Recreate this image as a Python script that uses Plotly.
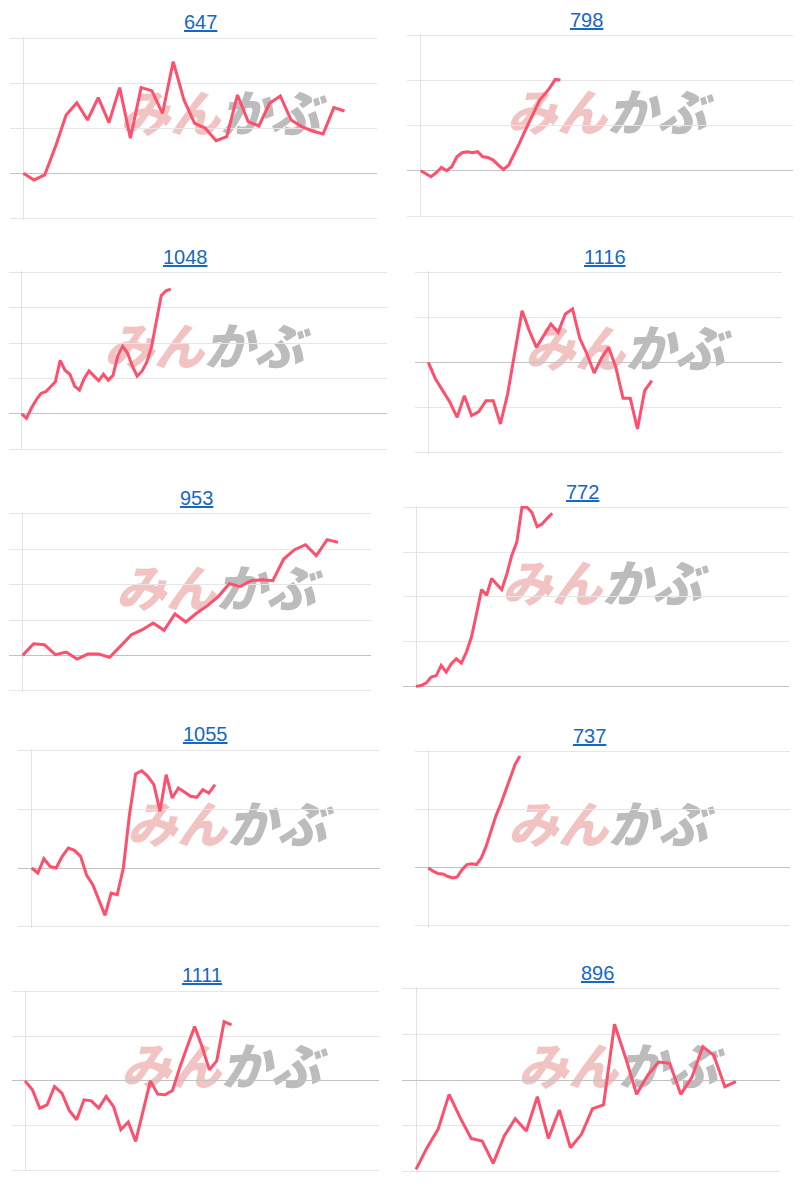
import plotly.graph_objects as go

# ---------------- data (values in grid-step units, 0 = start level) ----------------
titles = ["647", "798", "1048", "1116", "953", "772", "1055", "737", "1111", "896"]

s647 = [0, -0.148, -0.037, 0.593, 1.296, 1.57, 1.185, 1.681, 1.126, 1.904, 0.778, 1.904,
        1.837, 1.333, 2.481, 1.63, 1.111, 1.0, 0.726, 0.815, 1.741, 1.148, 1.052, 1.556,
        1.719, 1.185, 1.037, 0.941, 0.874, 1.459, 1.385]
s798 = [0, -0.074, -0.133, -0.044, 0.074, 0, 0.088, 0.309, 0.398, 0.42, 0.398, 0.42,
        0.309, 0.295, 0.236, 0.125, 0.029, 0.125, 0.346, 0.59, 0.84, 1.083, 1.341, 1.562,
        1.695, 1.842, 2.019, 2.005]
s1048 = [0, -0.121, 0.159, 0.393, 0.579, 0.626, 0.766, 0.907, 1.514, 1.234, 1.121, 0.785,
         0.673, 1.0, 1.215, 1.065, 0.935, 1.121, 0.953, 1.093, 1.654, 1.907, 1.72, 1.355,
         1.065, 1.206, 1.458, 1.897, 2.579, 3.336, 3.477, 3.523]
s1116 = [0, -0.37, -0.63, -0.889, -1.222, -0.741, -1.185, -1.096, -0.852, -0.852, -1.37,
         -0.704, 0.222, 1.148, 0.704, 0.333, 0.593, 0.852, 0.667, 1.074, 1.185, 0.533,
         0.185, -0.237, 0.089, 0.333, -0.111, -0.8, -0.8, -1.481, -0.63, -0.407]
s953 = [0, 0.33, 0.302, 0.019, 0.094, -0.104, 0.038, 0.038, -0.057, 0.255, 0.585, 0.726,
        0.915, 0.708, 1.17, 0.943, 1.198, 1.406, 1.67, 2.028, 1.953, 2.113, 2.142, 2.113,
        2.726, 2.991, 3.132, 2.821, 3.274, 3.198]
s772 = [0, 0.022, 0.075, 0.209, 0.239, 0.47, 0.321, 0.507, 0.619, 0.522, 0.769, 1.104,
        1.627, 2.164, 2.037, 2.41, 2.284, 2.164, 2.507, 2.933, 3.231, 4.0, 4.0, 3.881,
        3.567, 3.627, 3.754, 3.866]
s1055 = [0, -0.085, 0.159, 0.028, 0, 0.199, 0.341, 0.301, 0.199, -0.125, -0.284, -0.54,
         -0.807, -0.426, -0.455, 0, 0.909, 1.602, 1.659, 1.563, 1.42, 0.966, 1.591, 1.193,
         1.364, 1.295, 1.222, 1.205, 1.335, 1.278, 1.42]
s737 = [0, -0.057, -0.098, -0.103, -0.144, -0.172, -0.155, -0.029, 0.057, 0.069, 0.057,
        0.172, 0.374, 0.632, 0.891, 1.092, 1.322, 1.523, 1.782, 1.925]
s1111 = [0, -0.201, -0.612, -0.537, -0.127, -0.276, -0.664, -0.873, -0.425, -0.448, -0.612,
         -0.351, -0.575, -1.097, -0.925, -1.358, -0.687, 0, -0.299, -0.313, -0.216, 0.306,
         0.769, 1.216, 0.769, 0.246, 0.448, 1.328, 1.254]
s896 = [-1.949, -1.476, -1.076, -0.313, -0.822, -1.273, -1.331, -1.818, -1.222, -0.844,
        -1.113, -0.364, -1.273, -0.655, -1.476, -1.185, -0.625, -0.545, 1.215, 0.487,
        -0.313, 0.102, 0.393, 0.364, -0.313, 0.051, 0.727, 0.538, -0.145, -0.036]

series = [s647, s798, s1048, s1116, s953, s772, s1055, s737, s1111, s896]

# y axis grid extent (grid step = 1) and number of x slots on each axis
y_lo = [-1, -1, -1, -2, -1, 0, -1, -1, -2, -2]
y_hi = [3, 3, 4, 2, 4, 4, 2, 2, 2, 2]
x_slots = [33, 72, 76, 49, 32, 74, 57, 75, 48, 33]

# ---------------- layout geometry (pixels) ----------------
W, H = 800, 1190
# grid_left, axis_x, grid_right, grid_top, grid_bottom
geom = [
    (10.0, 23.3, 376.7, 38.3, 218.3),
    (406.7, 420.7, 793.3, 35.0, 216.0),
    (9.3, 21.7, 387.3, 272.3, 449.3),
    (415.0, 428.3, 781.7, 272.3, 452.3),
    (9.3, 22.7, 370.7, 514.0, 690.7),
    (402.7, 416.0, 789.3, 507.3, 686.5),
    (18.3, 31.7, 380.0, 750.7, 926.7),
    (415.0, 428.3, 790.0, 751.7, 926.0),
    (11.7, 25.0, 379.0, 991.7, 1170.0),
    (401.7, 416.0, 780.0, 988.3, 1171.7),
]
title_pos = [(200, 21.7), (586.7, 20), (185, 256.7), (605, 256.7), (196.7, 498.3),
             (582.7, 491.7), (205.7, 734), (589.3, 735.7), (201.7, 975), (597.3, 972.7)]
logo_pos = [(220, 119), (607, 118), (204, 352), (625, 354), (216, 594),
            (602, 589), (227, 830), (608, 830), (221, 1072), (618, 1072)]

LINE = "#fe4f6c"
GRID = "#e6e6e6"
ZERO = "#c2c2c2"
AXISV = "#e2e2e2"
TITLE = "#1767c6"

fig = go.Figure()

# watermark layer (first subplot, full page, pixel units) – drawn beneath the panels
wx = [p[0] for p in logo_pos]
wy = [p[1] for p in logo_pos]
fig.add_trace(go.Scatter(x=wx, y=wy, mode="text", text=["みん"] * 10,
                         textposition="middle left",
                         textfont=dict(family="Noto Sans CJK JP", size=50, color="#f2c3c3",
                                       weight=900, style="italic"),
                         hoverinfo="skip", showlegend=False, xaxis="x", yaxis="y"))
fig.add_trace(go.Scatter(x=wx, y=wy, mode="text", text=["かぶ"] * 10,
                         textposition="middle right",
                         textfont=dict(family="Noto Sans CJK JP", size=50, color="#bcbcbc",
                                       weight=900, style="italic"),
                         hoverinfo="skip", showlegend=False, xaxis="x", yaxis="y"))

layout = dict(
    width=W, height=H, margin=dict(l=0, r=0, t=0, b=0),
    paper_bgcolor="white", plot_bgcolor="rgba(0,0,0,0)", showlegend=False,
    xaxis=dict(domain=[0, 1], range=[0, W], visible=False, fixedrange=True),
    yaxis=dict(domain=[0, 1], range=[H, 0], visible=False, fixedrange=True),
)

annotations = []
pad = 0.03
for i, vals in enumerate(series):
    k = i + 2
    gl, ax, gr, gt, gb = geom[i]
    lo, hi = y_lo[i], y_hi[i]
    ppu = (gb - gt) / (hi - lo)
    slot_px = (gr - ax) / x_slots[i]
    xr = [-(ax - gl) / slot_px, x_slots[i]]
    fig.add_trace(go.Scatter(
        x=list(range(len(vals))), y=vals, mode="lines",
        line=dict(color=LINE, width=3), hoverinfo="skip", showlegend=False,
        xaxis=f"x{k}", yaxis=f"y{k}"))
    layout[f"xaxis{k}"] = dict(
        domain=[gl / W, gr / W], range=xr, anchor=f"y{k}",
        showgrid=False, showticklabels=False, ticks="", showline=False,
        zeroline=True, zerolinecolor=AXISV, zerolinewidth=1, fixedrange=True)
    layout[f"yaxis{k}"] = dict(
        domain=[1 - (gb + pad * ppu) / H, 1 - (gt - pad * ppu) / H],
        range=[lo - pad, hi + pad], anchor=f"x{k}",
        tick0=0, dtick=1, showgrid=True, gridcolor=GRID, gridwidth=1,
        showticklabels=False, ticks="", showline=False,
        zeroline=True, zerolinecolor=ZERO, zerolinewidth=1, fixedrange=True)
    tx, ty = title_pos[i]
    annotations.append(dict(
        text=titles[i], x=tx / W, y=1 - ty / H, xref="paper", yref="paper",
        xanchor="center", yanchor="middle", showarrow=False,
        font=dict(family="Liberation Sans, Arial", size=20, color=TITLE,
                  lineposition="under")))

layout["annotations"] = annotations
fig.update_layout(**layout)
fig.write_html("out.html", config={"displayModeBar": False},
               post_script="document.body.style.margin='0';document.body.style.overflow='hidden';")
